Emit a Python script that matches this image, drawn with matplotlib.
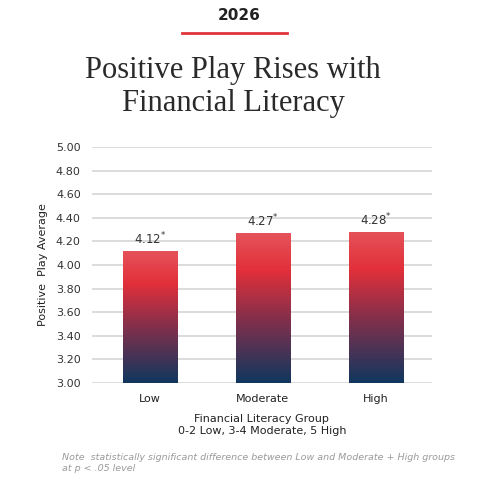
import numpy as np
import matplotlib.pyplot as plt
from matplotlib.colors import LinearSegmentedColormap

# data
groups = ["Low", "Moderate", "High"]
averages = [4.12, 4.27, 4.28]
yticks = [3.0, 3.2, 3.4, 3.6, 3.8, 4.0, 4.2, 4.4, 4.6, 4.8, 5.0]

fig = plt.figure(figsize=(4.81, 4.91), dpi=100)
ax = fig.add_axes([0.191, 0.22, 0.707, 0.4806])

# red at top -> navy at bottom
cmap = LinearSegmentedColormap.from_list(
    "grad", [(0.0, "#10375f"), (0.45, "#8a2f4a"), (0.75, "#e2303a"), (1.0, "#e5535a")])
grad = np.linspace(0, 1, 256).reshape(-1, 1)

x = np.arange(len(groups))
bw = 0.48
bars = ax.bar(x, np.array(averages) - 3.0, bottom=3.0, width=bw, color="none", zorder=3)
for b in bars:
    x0, y0 = b.get_x(), b.get_y()
    im = ax.imshow(grad, cmap=cmap, aspect="auto", origin="lower",
                   extent=[x0, x0 + b.get_width(), y0, y0 + b.get_height()], zorder=3)
    im.set_clip_path(b)

for xi, v in zip(x, averages):
    ax.text(xi, v + 0.03, f"{v:.2f}" + r"$^{*}$", ha="center", va="bottom",
            fontsize=8.5, color="#333333", zorder=4)

ax.set_xlim(-0.513, 2.497)
ax.set_ylim(3.0, 5.0)
ax.set_yticks(yticks)
ax.set_yticklabels([f"{t:.2f}" for t in yticks], fontsize=8, color="#333333")
ax.set_xticks(x)
ax.set_xticklabels(groups, fontsize=8, color="#222222")
ax.tick_params(length=0, pad=8)
ax.tick_params(axis="y", pad=8)
ax.grid(axis="y", color="#d9d9d9", linewidth=1.3, zorder=0)
ax.set_axisbelow(True)
for s in ax.spines.values():
    s.set_visible(False)

ax.set_ylabel("Positive  Play Average", fontsize=8, color="#222222", labelpad=6)
ax.set_xlabel("Financial Literacy Group\n0-2 Low, 3-4 Moderate, 5 High",
              fontsize=8, color="#222222", labelpad=7, linespacing=1.3)

# header
fig.text(0.497, 0.968, "2026", ha="center", va="center", fontsize=11,
         fontweight="bold", color="#222222")
fig.add_artist(plt.Line2D([182 / 481, 287 / 481], [1 - 33 / 491, 1 - 33 / 491],
                          color="#e0333c", linewidth=2))
fig.text(0.485, 0.823, "Positive Play Rises with\nFinancial Literacy", ha="center",
         va="center", fontsize=22, family="Liberation Serif", color="#2a2a2a",
         linespacing=1.18)

fig.text(0.129, 0.057, "Note  statistically significant difference between Low and Moderate + High groups\nat p < .05 level",
         ha="left", va="center", fontsize=6.8, style="italic", color="#9a9a9a",
         linespacing=1.4)

fig.savefig("out.png", dpi=100)
